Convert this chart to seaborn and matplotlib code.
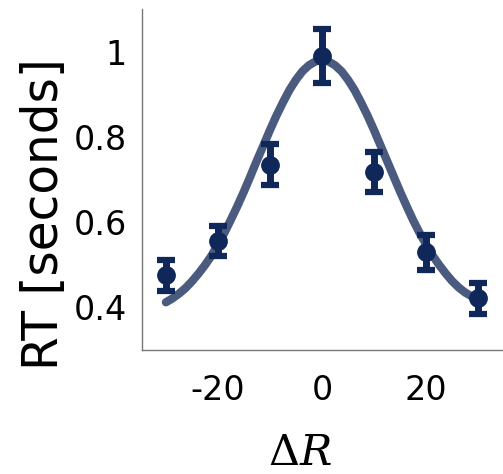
import numpy as np
import pandas as pd
import matplotlib
matplotlib.use("Agg")
import matplotlib.pyplot as plt
import seaborn as sns

# observed data points
delta_r = [-30, -20, -10, 0, 10, 20, 30]
rt_mean = [0.475, 0.555, 0.735, 0.990, 0.717, 0.529, 0.421]
rt_err = [0.037, 0.035, 0.049, 0.063, 0.047, 0.041, 0.036]

# fitted curve
curve_x = [-30, -28.75, -27.5, -26.25, -25, -23.75, -22.5, -21.25, -20, -18.75,
           -17.5, -16.25, -15, -13.75, -12.5, -11.25, -10, -8.75, -7.5, -6.25,
           -5, -3.75, -2.5, -1.25, 0, 1.25, 2.5, 3.75, 5, 6.25,
           7.5, 8.75, 10, 11.25, 12.5, 13.75, 15, 16.25, 17.5, 18.75,
           20, 21.25, 22.5, 23.75, 25, 26.25, 27.5, 28.75, 30]
curve_y = [0.412, 0.421, 0.432, 0.445, 0.461, 0.479, 0.499, 0.521, 0.548, 0.575,
           0.606, 0.638, 0.672, 0.708, 0.745, 0.780, 0.816, 0.850, 0.881, 0.910,
           0.934, 0.954, 0.968, 0.977, 0.980, 0.977, 0.968, 0.954, 0.934, 0.910,
           0.881, 0.850, 0.816, 0.780, 0.744, 0.708, 0.672, 0.638, 0.605, 0.575,
           0.548, 0.522, 0.500, 0.480, 0.462, 0.447, 0.435, 0.426, 0.418]

y_ticks = [0.4, 0.6, 0.8, 1.0]
y_tick_labels = ["0.4", "0.6", "0.8", "1"]
x_ticks = [-20, 0, 20]
x_tick_labels = ["-20", "0", "20"]

sns.set_style("white")
plt.rcParams['font.family'] = ['DejaVu Sans']
plt.rcParams['mathtext.fontset'] = 'dejavuserif'

fig = plt.figure(figsize=(5.03, 4.74), dpi=100)
ax = fig.add_axes([142/503, 1 - 350/474, 1 - 142/503, (350 - 9)/474])

curve_df = pd.DataFrame({"x": curve_x, "y": curve_y})
sns.lineplot(data=curve_df, x="x", y="y", ax=ax, color="#4b5b80", linewidth=6,
             solid_capstyle="round", solid_joinstyle="round", zorder=2)

ax.errorbar(delta_r, rt_mean, yerr=rt_err, fmt="o", color="#10275a",
            markersize=12.5, elinewidth=5, capsize=6.2, capthick=4.5, zorder=3)

ax.set_xlim(-34.6, 34.8)
ax.set_ylim(0.30, 1.10)
ax.set_xticks(x_ticks)
ax.set_xticklabels(x_tick_labels)
ax.set_yticks(y_ticks)
ax.set_yticklabels(y_tick_labels)

for s in ["top", "right"]:
    ax.spines[s].set_visible(False)
for s in ["left", "bottom"]:
    ax.spines[s].set_color("#777777")
    ax.spines[s].set_linewidth(1.0)

ax.tick_params(axis="both", direction="inout", length=6, width=1, color="#777777",
               labelsize=24, labelcolor="black")
ax.tick_params(axis="x", pad=14)
ax.tick_params(axis="y", pad=8)

ax.set_ylabel("RT [seconds]", fontsize=35, color="black")
ax.yaxis.set_label_coords((44 - 142) / 361, 1 - (214 - 9) / 341)
ax.yaxis.label.set_va("center")

ax.set_xlabel(r"$\Delta R$", fontsize=31, color="black")
ax.xaxis.set_label_coords((300 - 142) / 361, -(453 - 350) / 341)
ax.xaxis.label.set_va("center")

fig.savefig("out.png", dpi=100)
